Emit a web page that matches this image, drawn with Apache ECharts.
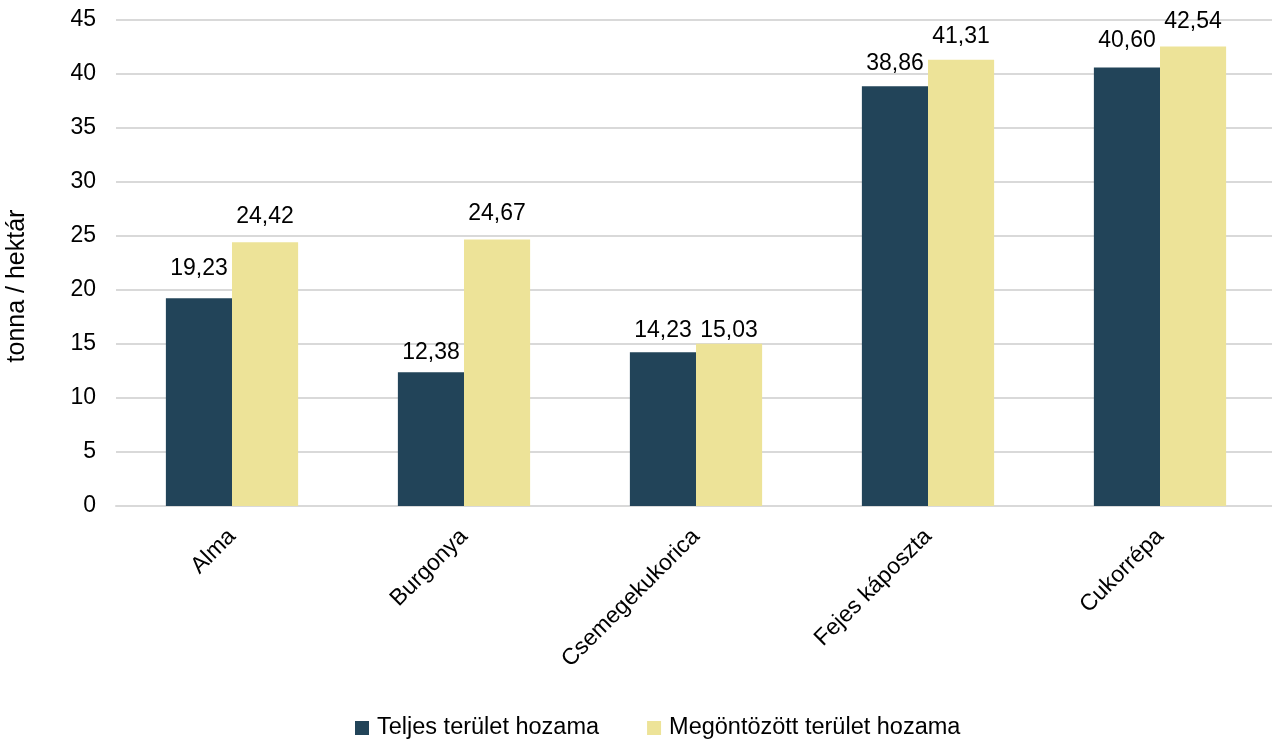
<!DOCTYPE html>
<html><head><meta charset="utf-8">
<script src="https://cdn.jsdelivr.net/npm/echarts@6/dist/echarts.min.js"></script>
<style>html,body{margin:0;padding:0;background:#fff}#c{width:1272px;height:740px}</style>
</head><body><div id="c"></div>
<script>
const categories = ['Alma','Burgonya','Csemegekukorica','Fejes káposzta','Cukorrépa'];
const seriesNames = ['Teljes terület hozama','Megöntözött terület hozama'];
const teljes = [19.23, 12.38, 14.23, 38.86, 40.60];
const megontozott = [24.42, 24.67, 15.03, 41.31, 42.54];
const yAxisName = 'tonna / hektár';
const colors = ['#224459','#EDE398'];
const font = 'Liberation Sans, Arial, sans-serif';
const chart = echarts.init(document.getElementById('c'));
const fmt = p => p.value.toFixed(2).replace('.', ',');
// label offsets above bars (style, not data)
const labelDist = [[18, 8, 10, 11, 15], [14, 14, 2, 12, 13]];
const mk = (vals, si) => vals.map((v, i) => ({value: v, label: {distance: labelDist[si][i]}}));
chart.setOption({
  animation:false,
  grid:{left:116,width:1160,top:20,bottom:234,containLabel:false,outerBoundsMode:'none'},
  legend:{top:711,left:350,itemWidth:14,itemHeight:14,itemGap:48,icon:'rect',
    textStyle:{fontFamily:font,fontSize:23.5,color:'#000',padding:[0,0,0,3]},data:seriesNames},
  xAxis:{type:'category',data:categories,
    axisLine:{lineStyle:{color:'#d9d9d9',width:2}},axisTick:{show:false},
    axisLabel:{rotate:45,fontFamily:font,fontSize:23,color:'#000',margin:27,interval:0}},
  yAxis:{type:'value',min:0,max:45,interval:5,name:yAxisName,nameLocation:'middle',nameGap:86,
    nameTextStyle:{fontFamily:font,fontSize:25,color:'#000',padding:[0,46,0,0]},
    axisLine:{show:false},axisTick:{show:false},
    axisLabel:{fontFamily:font,fontSize:23,color:'#000',margin:20},
    splitLine:{lineStyle:{color:'#d9d9d9',width:2}}},
  series:[
    {name:seriesNames[0],type:'bar',data:mk(teljes,0),barGap:'0%',barCategoryGap:'43%',
     itemStyle:{color:colors[0]},
     label:{show:true,position:'top',formatter:fmt,fontFamily:font,fontSize:23,color:'#000'}},
    {name:seriesNames[1],type:'bar',data:mk(megontozott,1),barGap:'0%',barCategoryGap:'43%',
     itemStyle:{color:colors[1]},
     label:{show:true,position:'top',formatter:fmt,fontFamily:font,fontSize:23,color:'#000'}}
  ]
});
</script></body></html>
